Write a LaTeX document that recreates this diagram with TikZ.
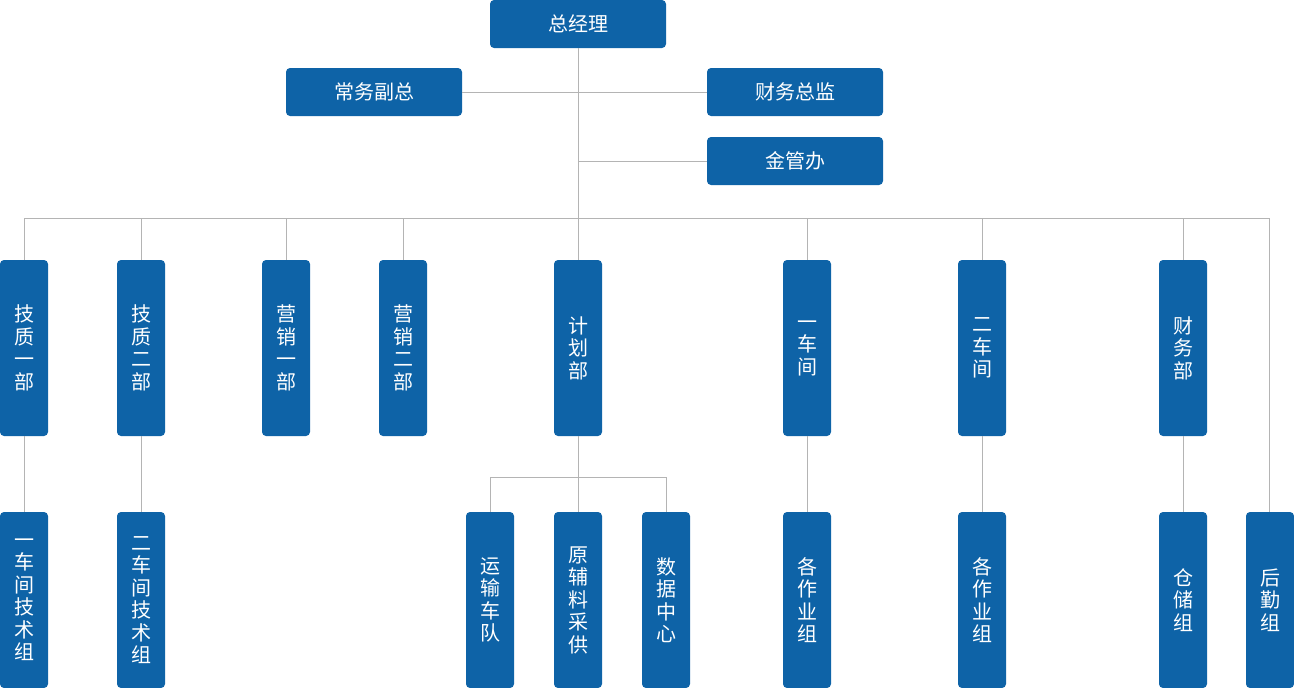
\documentclass[tikz,border=0pt]{standalone}
\usepackage{fontspec}
\newfontfamily\cjk{Noto Sans CJK SC}
\definecolor{boxblue}{HTML}{0E63A7}
\definecolor{linegray}{HTML}{B4B4B4}
\begin{document}
\begin{tikzpicture}[x=1pt,y=-1pt,
 box/.style={fill=boxblue, rounded corners=4pt, text=white, font=\cjk\fontsize{20}{22.5}\selectfont, inner sep=0pt, align=center},
 hbox/.style={box, minimum width=176pt, minimum height=48pt},
 vbox/.style={box, minimum width=48pt, minimum height=176pt},
 link/.style={draw=linegray, line width=1pt}]
\useasboundingbox (0,0) rectangle (1294,688);
% connectors first (behind boxes)
\coordinate (busL) at (24,218.5);
\coordinate (busR) at (1269.5,218.5);
\coordinate (sub) at (578,477.5);
% top nodes
\node[hbox] (gm) at (578,24) {总经理};
\node[hbox] (cw) at (374,92) {常务副总};
\node[hbox] (cwzj) at (795,92) {财务总监};
\node[hbox] (jgb) at (795,161) {金管办};
% second row
\node[vbox] (jz1) at (24,348) {技\\质\\一\\部};
\node[vbox] (jz2) at (141,348) {技\\质\\二\\部};
\node[vbox] (yx1) at (286,348) {营\\销\\一\\部};
\node[vbox] (yx2) at (403,348) {营\\销\\二\\部};
\node[vbox] (jhb) at (578,348) {计\\划\\部};
\node[vbox] (cj1) at (807,348) {一\\车\\间};
\node[vbox] (cj2) at (982,348) {二\\车\\间};
\node[vbox] (cwb) at (1183,348) {财\\务\\部};
% third row
\node[vbox] (js1) at (24,600) {一\\车\\间\\技\\术\\组};
\node[vbox] (js2) at (141,600) {二\\车\\间\\技\\术\\组};
\node[vbox] (ys) at (490,600) {运\\输\\车\\队};
\node[vbox] (yf) at (578,600) {原\\辅\\料\\采\\供};
\node[vbox] (sj) at (666,600) {数\\据\\中\\心};
\node[vbox] (zy1) at (807,600) {各\\作\\业\\组};
\node[vbox] (zy2) at (982,600) {各\\作\\业\\组};
\node[vbox] (cc) at (1183,600) {仓\\储\\组};
\node[vbox] (hq) at (1270,600) {后\\勤\\组};
% connectors
\draw[link] (gm.south) -- (jhb.north);
\draw[link] (cw.east) -- (cwzj.west);
\draw[link] (gm.south |- jgb.west) -- (jgb.west);
\draw[link] (busL) -- (busR) -- (busR |- hq.north);
\foreach \n in {jz1,jz2,yx1,yx2,cj1,cj2,cwb}{
  \draw[link] (\n.north) -- (\n.north |- busL);
}
\draw[link] (jz1.south) -- (js1.north);
\draw[link] (jz2.south) -- (js2.north);
\draw[link] (cj1.south) -- (zy1.north);
\draw[link] (cj2.south) -- (zy2.north);
\draw[link] (cwb.south) -- (cc.north);
\draw[link] (jhb.south) -- (yf.north);
\draw[link] (ys.north) |- (sub) -| (sj.north);
\end{tikzpicture}
\end{document}
